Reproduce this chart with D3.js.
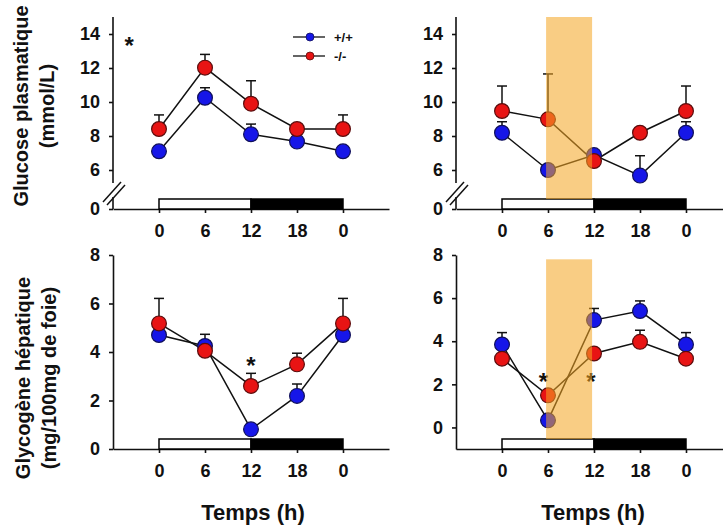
<!DOCTYPE html>
<html>
<head>
<meta charset="utf-8">
<script src="https://cdn.jsdelivr.net/npm/d3@7"></script>
<style>
  html, body { margin: 0; padding: 0; background: #fff; }
  svg { display: block; }
  text { font-family: "Liberation Sans", Arial, sans-serif; font-weight: bold; fill: #111; }
</style>
</head>
<body>
<svg id="chart" width="723" height="527"></svg>
<script>
// Sampling times (h) across one light/dark cycle; the last point is 0 h again
const hours = [0, 6, 12, 18, 24];
const hourLabels = ["0", "6", "12", "18", "0"];

// Plasma glucose (mmol/L), ad libitum
const glucoseWT = [7.1, 10.25, 8.1, 7.67, 7.1];
const glucoseWTErr = [0, 0.59, 0.6, 0, 0];
const glucoseKO = [8.41, 12.02, 9.9, 8.41, 8.41];
const glucoseKOErr = [0.83, 0.78, 1.35, 0, 0.83];

// Plasma glucose (mmol/L), restricted feeding
const glucoseWT2 = [8.19, 6.0, 6.88, 5.67, 8.19];
const glucoseWT2Err = [0.65, 0, 0, 1.17, 0.65];
const glucoseKO2 = [9.47, 8.98, 6.53, 8.19, 9.47];
const glucoseKO2Err = [1.47, 2.67, 0, 0, 1.47];

// Hepatic glycogen (mg/100mg liver), ad libitum
const glycogenWT = [4.7, 4.25, 0.81, 2.19, 4.7];
const glycogenWTErr = [0, 0.48, 0, 0.49, 0];
const glycogenKO = [5.18, 4.05, 2.6, 3.49, 5.18];
const glycogenKOErr = [1.03, 0, 0.52, 0.46, 1.03];

// Hepatic glycogen (mg/100mg liver), restricted feeding
const glycogenWT2 = [3.85, 0.33, 4.98, 5.4, 3.85];
const glycogenWT2Err = [0.55, 0, 0.54, 0.47, 0.55];
const glycogenKO2 = [3.19, 1.49, 3.43, 3.97, 3.19];
const glycogenKO2Err = [0, 0, 0, 0.54, 0];

// Light (0-12 h) and dark (12-24 h) phases
const phases = [[0, 12, "light"], [12, 24, "dark"]];
// Food-access window (h)
const feedWindow = [5.75, 11.75];

const genotypes = ["+/+", "-/-"];
const colors = { "+/+": "#1616e8", "-/-": "#e81414" };
const strokes = { "+/+": "#10105a", "-/-": "#5a0c0c" };

const glucoseTicks = [0, 6, 8, 10, 12, 14];
const glycogenTicks = [0, 2, 4, 6, 8];

// Stars marking significant differences: [hour, value at the star's centre]
const starsGlucose = [[-3.9, 13.65]];
const starsGlycogen = [[12, 3.67]];
const starsGlycogen2 = [[5.4, 2.4], [11.6, 2.4]];

const svg = d3.select("#chart");

function drawPanel(cfg) {
  const g = svg.append("g");
  const x = d3.scaleLinear().domain([-6, 30]).range([cfg.left, cfg.left + 276]);
  const y = cfg.y;
  const y0 = cfg.bottom;

  // x axis
  const xAxis = d3.axisBottom(x).tickValues(hours)
    .tickFormat((d, i) => hourLabels[i]).tickSize(4).tickSizeOuter(0).tickPadding(11);
  const gx = g.append("g").attr("transform", `translate(0,${y0})`).call(xAxis);
  gx.selectAll("text").style("font-size", "18px");
  gx.selectAll("path, line").attr("stroke", "#111").attr("stroke-width", 1.6);

  // y axis
  const yAxis = d3.axisLeft(y).tickValues(cfg.ticks).tickSize(4).tickSizeOuter(0).tickPadding(9);
  const gy = g.append("g").attr("transform", `translate(${cfg.left},0)`).call(yAxis);
  gy.selectAll("text").style("font-size", "18px");
  gy.selectAll("path, line").attr("stroke", "#111").attr("stroke-width", 1.6);

  if (cfg.broken) {
    // axis with a break between 0 and the first labelled value
    gy.select("path.domain").remove();
    const L = cfg.left;
    g.append("line").attr("x1", L).attr("x2", L).attr("y1", y(cfg.yMax)).attr("y2", y0 - 26)
      .attr("stroke", "#111").attr("stroke-width", 1.6);
    g.append("line").attr("x1", L).attr("x2", L).attr("y1", y0 - 12).attr("y2", y0)
      .attr("stroke", "#111").attr("stroke-width", 1.6);
    [[-10, -7, 8, -27], [-6, -4, 12, -24]].forEach(([a, b, c, d]) => {
      g.append("line").attr("x1", L + a).attr("y1", y0 + b).attr("x2", L + c).attr("y2", y0 + d)
        .attr("stroke", "#111").attr("stroke-width", 1.5);
    });
  }

  // light/dark bar
  phases.forEach(([a, b, kind]) => {
    g.append("rect").attr("x", x(a)).attr("y", y0 - 10).attr("width", x(b) - x(a)).attr("height", 10)
      .attr("fill", kind === "light" ? "#fff" : "#000").attr("stroke", "#000").attr("stroke-width", 1.5);
  });

  const line = d3.line().x((d, i) => x(hours[i])).y(d => y(d));
  cfg.series.forEach(s => {
    g.append("path").datum(s.values).attr("d", line)
      .attr("fill", "none").attr("stroke", "#111").attr("stroke-width", 1.5);
  });
  cfg.series.forEach(s => {
    s.values.forEach((v, i) => {
      const e = s.err[i];
      if (e > 0) {
        g.append("line").attr("x1", x(hours[i])).attr("x2", x(hours[i]))
          .attr("y1", y(v)).attr("y2", y(v + e)).attr("stroke", "#111").attr("stroke-width", 1.5);
        g.append("line").attr("x1", x(hours[i]) - 5).attr("x2", x(hours[i]) + 5)
          .attr("y1", y(v + e)).attr("y2", y(v + e)).attr("stroke", "#111").attr("stroke-width", 1.5);
      }
    });
  });
  cfg.series.forEach(s => {
    g.selectAll(null).data(s.values).join("circle")
      .attr("cx", (d, i) => x(hours[i])).attr("cy", d => y(d)).attr("r", 7.4)
      .attr("fill", colors[s.key]).attr("stroke", strokes[s.key]).attr("stroke-width", 1.2);
  });

  // asterisk glyph sits high in its em box: shift the baseline so the glyph centres on the value
  (cfg.stars || []).forEach(([h, v]) => {
    g.append("text").attr("x", x(h)).attr("y", y(v)).attr("dy", "0.58em").attr("text-anchor", "middle")
      .style("font-size", "24px").text("*");
  });

  if (cfg.band) {
    g.append("rect").attr("x", x(feedWindow[0])).attr("y", y(cfg.bandTop))
      .attr("width", x(feedWindow[1]) - x(feedWindow[0]))
      .attr("height", (y0 - 10) - y(cfg.bandTop))
      .attr("fill", "rgb(245,166,35)").attr("fill-opacity", 0.56);
  }
  return { g, x, y };
}

// piecewise scale for the broken glucose axis
function glucoseScale(bottom) {
  return d3.scaleLinear().domain([0, 5, 15]).range([bottom, bottom - 22, bottom - 192]);
}

drawPanel({
  left: 113, bottom: 209, y: glucoseScale(209), ticks: glucoseTicks, broken: true, yMax: 15,
  stars: starsGlucose,
  series: [
    { key: "+/+", values: glucoseWT, err: glucoseWTErr },
    { key: "-/-", values: glucoseKO, err: glucoseKOErr }
  ]
});
drawPanel({
  left: 456, bottom: 209, y: glucoseScale(209), ticks: glucoseTicks, broken: true, yMax: 15,
  band: true, bandTop: 15,
  series: [
    { key: "+/+", values: glucoseWT2, err: glucoseWT2Err },
    { key: "-/-", values: glucoseKO2, err: glucoseKO2Err }
  ]
});
drawPanel({
  left: 113, bottom: 449, y: d3.scaleLinear().domain([0, 8]).range([449, 255]), ticks: glycogenTicks,
  stars: starsGlycogen,
  series: [
    { key: "+/+", values: glycogenWT, err: glycogenWTErr },
    { key: "-/-", values: glycogenKO, err: glycogenKOErr }
  ]
});
drawPanel({
  left: 456, bottom: 449, y: d3.scaleLinear().domain([-1, 8]).range([449, 255]), ticks: glycogenTicks,
  band: true, bandTop: 7.8, stars: starsGlycogen2,
  series: [
    { key: "+/+", values: glycogenWT2, err: glycogenWT2Err },
    { key: "-/-", values: glycogenKO2, err: glycogenKO2Err }
  ]
});

// legend
genotypes.forEach((k, i) => {
  const ly = 37 + i * 19;
  svg.append("line").attr("x1", 293).attr("x2", 325).attr("y1", ly).attr("y2", ly)
    .attr("stroke", "#111").attr("stroke-width", 1.3);
  svg.append("circle").attr("cx", 310).attr("cy", ly).attr("r", 4)
    .attr("fill", colors[k]).attr("stroke", strokes[k]).attr("stroke-width", 0.8);
  svg.append("text").attr("x", 334).attr("y", ly).attr("dy", "0.35em")
    .style("font-size", "13px").text(k);
});

// axis titles
function yTitle(cx, cy, lines) {
  const t = svg.append("text").attr("transform", `translate(${cx},${cy}) rotate(-90)`)
    .attr("text-anchor", "middle").style("font-size", "20px");
  lines.forEach((s, i) => t.append("tspan").attr("x", 0).attr("y", i * 26).text(s));
}
yTitle(28, 106, ["Glucose plasmatique", "(mmol/L)"]);
yTitle(30, 378, ["Glycogène hépatique", "(mg/100mg de foie)"]);

[253, 593].forEach(cx => {
  svg.append("text").attr("x", cx).attr("y", 520).attr("text-anchor", "middle")
    .style("font-size", "22px").text("Temps (h)");
});
</script>
</body>
</html>
